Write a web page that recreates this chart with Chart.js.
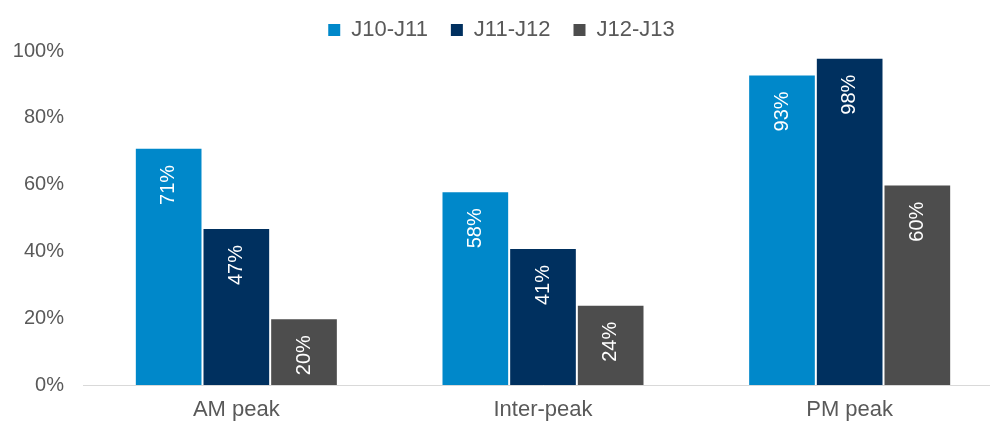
<!DOCTYPE html>
<html>
<head>
<meta charset="utf-8">
<script src="https://cdn.jsdelivr.net/npm/chart.js@4"></script>
<style>
  html, body { margin: 0; padding: 0; background: #fff; overflow: hidden; }
  /* plot area runs a little past the right edge of the window */
  #wrap { width: 1006px; height: 425px; }
</style>
</head>
<body>
<div id="wrap"><canvas id="peakChart"></canvas></div>
<script>
const PERIODS = ['AM peak', 'Inter-peak', 'PM peak'];
const SERIES_NAMES = ['J10-J11', 'J11-J12', 'J12-J13'];
const J10_J11 = [71, 58, 93];
const J11_J12 = [47, 41, 98];
const J12_J13 = [20, 24, 60];
const Y_TICKS = [0, 20, 40, 60, 80, 100];

const SERIES_COLORS = ['#0088CA', '#00305F', '#4D4D4D'];
const TEXT_COLOR = '#595959';
const FONT = '"Liberation Sans", Arial, sans-serif';

// white percentage labels, rotated, sitting just under the top of each bar
const barLabels = {
   id: 'barLabels',
   afterDatasetsDraw(chart) {
      const ctx = chart.ctx;
      ctx.save();
      ctx.fillStyle = '#ffffff';
      ctx.font = '20px ' + FONT;
      ctx.textAlign = 'right';
      ctx.textBaseline = 'middle';
      chart.data.datasets.forEach((ds, i) => {
         chart.getDatasetMeta(i).data.forEach((bar, j) => {
            const text = ds.data[j] + '%';
            const w = ctx.measureText(text).width;
            let end = bar.y + 17;
            if (end + w > bar.base - 2) end = bar.base - 2 - w;
            ctx.save();
            ctx.translate(bar.x, end);
            ctx.rotate(-Math.PI / 2);
            ctx.fillText(text, 0, 0);
            ctx.restore();
         });
      });
      ctx.restore();
   }
};

const seriesValues = [J10_J11, J11_J12, J12_J13];

new Chart(document.getElementById('peakChart'), {
   type: 'bar',
   data: {
      labels: PERIODS,
      datasets: SERIES_NAMES.map((name, i) => ({
         label: name,
         data: seriesValues[i],
         backgroundColor: SERIES_COLORS[i],
         borderColor: 'rgba(255, 255, 255, 0.35)',
         borderWidth: 1,
         barPercentage: 1,
         categoryPercentage: 0.662
      }))
   },
   options: {
      responsive: true,
      maintainAspectRatio: false,
      animation: false,
      layout: { padding: { left: 0, right: 3, top: -4, bottom: 2 } },
      plugins: {
         legend: {
            position: 'top',
            labels: {
               color: TEXT_COLOR,
               font: { family: FONT, size: 22 },
               boxWidth: 12,
               boxHeight: 12,
               padding: 23,
               generateLabels(chart) {
                  return chart.data.datasets.map((ds, i) => ({
                     text: ds.label,
                     fillStyle: SERIES_COLORS[i],
                     strokeStyle: SERIES_COLORS[i],
                     lineWidth: 0,
                     fontColor: TEXT_COLOR,
                     datasetIndex: i
                  }));
               }
            }
         },
         tooltip: { enabled: false }
      },
      scales: {
         x: {
            afterFit(scale) {
               scale.height = 38;
            },
            grid: { display: false, drawTicks: false },
            border: { display: true, color: '#D9D9D9', width: 1 },
            ticks: {
               color: TEXT_COLOR,
               font: { family: FONT, size: 22 },
               padding: 12
            }
         },
         y: {
            min: 0,
            max: 100,
            afterBuildTicks(scale) {
               scale.ticks = Y_TICKS.map(v => ({ value: v }));
            },
            afterFit(scale) {
               scale.width = 83;
            },
            grid: { display: false, drawTicks: false },
            border: { display: false },
            ticks: {
               color: TEXT_COLOR,
               font: { family: FONT, size: 20 },
               padding: 19,
               callback: v => v + '%'
            }
         }
      }
   },
   plugins: [barLabels]
});
</script>
</body>
</html>
